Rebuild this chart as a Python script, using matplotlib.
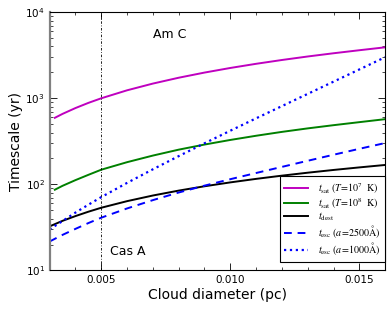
import numpy as np
import matplotlib
matplotlib.use('Agg')
import matplotlib.pyplot as plt

plt.rcParams['mathtext.fontset'] = 'stix'

# cloud diameter (pc)
diam = [0.003, 0.0035, 0.004, 0.0045, 0.005, 0.006, 0.007, 0.008, 0.009,
        0.010, 0.011, 0.012, 0.013, 0.014, 0.015, 0.016]
diam_sat = [0.0032] + diam[1:]

# timescales (yr)
t_sat_1e7 = [593, 659, 770, 884, 1000, 1238, 1482, 1733, 1989, 2250, 2515,
             2785, 3059, 3335, 3616, 3910]
t_sat_1e8 = [86.6, 96.2, 112, 129, 148, 181, 216, 253, 290, 328, 367,
             407, 447, 487, 528, 572]
t_dest = [32.5, 37.7, 42.8, 48.1, 53.5, 63.8, 74.2, 84.6, 95.0, 105.4,
          115.8, 126.2, 136.6, 147.0, 157.4, 168]
t_esc_2500 = [21.7, 25.9, 30.4, 35.5, 41.0, 52.5, 65.6, 80.4, 96.6, 114.8,
              135.5, 159.6, 187.9, 220.8, 258.8, 302]
t_esc_1000 = [30.0, 37.5, 47.0, 58.0, 71.1, 104.0, 149.6, 212.8, 300, 420,
              585, 811, 1125, 1560, 2163, 3000]

fig = plt.figure(figsize=(3.91, 3.13), dpi=100)
ax = fig.add_axes([0.127, 0.136, 0.858, 0.825])

ax.plot(diam_sat, t_sat_1e7, color='m', lw=1.4,
        label=r'$t_{\rm sat}\ (T\!=\!10^7\ \ {\rm K})$')
ax.plot(diam_sat, t_sat_1e8, color='g', lw=1.4,
        label=r'$t_{\rm sat}\ (T\!=\!10^8\ \ {\rm K})$')
ax.plot(diam, t_dest, color='k', lw=1.4, label=r'$t_{\rm dest}$')
ax.plot(diam, t_esc_2500, color='b', lw=1.4, ls='--', dashes=(4, 3),
        label=r'$t_{\rm esc}\ (a\!=\!2500{\rm \AA})$')
ax.plot(diam, t_esc_1000, color='b', lw=1.6, ls=':',
        label=r'$t_{\rm esc}\ (a\!=\!1000{\rm \AA})$')

ax.axvline(0.005, color='k', lw=0.6, dashes=(3, 2, 1, 2))

ax.text(0.00702, 5560, 'Am C', fontsize=9, va='center')
ax.text(0.00532, 16.4, 'Cas A', fontsize=9, va='center')

ax.set_yscale('log')
ax.set_xlim(0.003, 0.016)
ax.set_ylim(10, 1e4)
ax.set_xticks([0.005, 0.010, 0.015])
ax.set_xticklabels(['0.005', '0.010', '0.015'])
ax.set_xticks(np.arange(0.003, 0.0165, 0.001), minor=True)
ax.tick_params(which='both', direction='in', top=True, right=True,
               labelsize=7.5)
ax.tick_params(which='major', length=5, width=0.6)
ax.tick_params(which='minor', length=2.5, width=0.5)
ax.spines['left'].set_color('#808080')
ax.spines['left'].set_linewidth(1.6)

ax.set_xlabel('Cloud diameter (pc)', fontsize=10, labelpad=2)
ax.set_ylabel('Timescale (yr)', fontsize=10, labelpad=2)

leg = ax.legend(loc='lower right', bbox_to_anchor=(1.0, 0.033), fontsize=7.2,
                fancybox=False, edgecolor='k', framealpha=1,
                handlelength=2.4, handletextpad=1.0, borderpad=0.45,
                borderaxespad=0, labelspacing=0.02)
leg.get_frame().set_linewidth(0.8)

fig.savefig('out.png', dpi=100)
